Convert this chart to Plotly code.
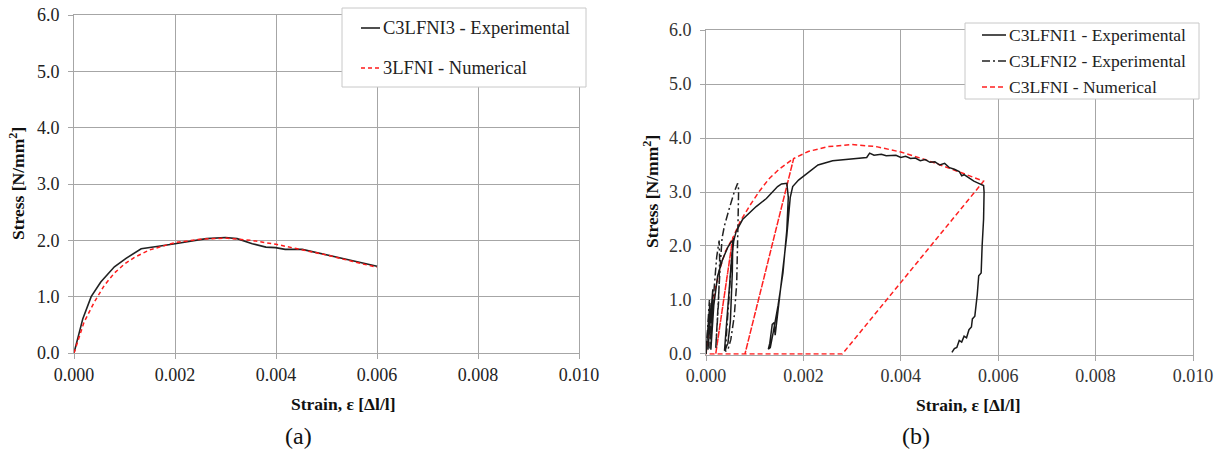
import plotly.graph_objects as go

# ---- data (a) ----
a_exp_x = [0, 0.000175, 0.00034, 0.00053, 0.0008, 0.00103, 0.00133, 0.00152, 0.00171, 0.0020,
           0.00232, 0.00262, 0.0030, 0.00323, 0.00353, 0.0038, 0.00399, 0.00418, 0.00452,
           0.00482, 0.00513, 0.00543, 0.00566, 0.0060]
a_exp_y = [0, 0.61, 1.0, 1.26, 1.53, 1.68, 1.85, 1.87, 1.90, 1.94,
           1.99, 2.03, 2.05, 2.03, 1.94, 1.88, 1.87, 1.84, 1.84,
           1.78, 1.72, 1.66, 1.62, 1.54]
a_num_x = [0, 0.0002, 0.0004, 0.0006, 0.0008, 0.001, 0.0012, 0.0015, 0.002, 0.0025,
           0.003, 0.0035, 0.004, 0.0045, 0.005, 0.0055, 0.006]
a_num_y = [0, 0.55, 0.9, 1.2, 1.42, 1.58, 1.7, 1.83, 1.96, 2.02,
           2.04, 2.0, 1.93, 1.84, 1.74, 1.63, 1.52]

# ---- data (b) ----
b_exp1_x = [0, 0.00003, 0.00008, 0.00006, 0.00004, 0.00009, 0.00014, 0.00012, 0.0001, 0.00016,
            0.00024, 0.00034, 0.00045, 0.00052, 0.00055, 0.00054, 0.0005, 0.00045, 0.00038,
            0.0004, 0.00046, 0.00052, 0.00057, 0.00062, 0.00075, 0.00094, 0.00103, 0.00124,
            0.00147, 0.00155, 0.00166, 0.00169, 0.00166, 0.00158, 0.00148, 0.00138, 0.00132,
            0.00128, 0.00131, 0.00136, 0.0014, 0.00142, 0.00148, 0.00156, 0.00166, 0.00173,
            0.00178, 0.0019, 0.00205, 0.0023, 0.0026, 0.003, 0.0033, 0.00336, 0.00345,
            0.0036, 0.0037, 0.0039, 0.004, 0.0041, 0.0042, 0.0043, 0.0044, 0.0045, 0.0046,
            0.0047, 0.0048, 0.0049, 0.005, 0.0051, 0.0052, 0.00525, 0.0053, 0.0054, 0.0055,
            0.0056, 0.0057, 0.00571, 0.0057, 0.00567, 0.00565, 0.0056, 0.00557, 0.00552,
            0.00547, 0.00545, 0.0054, 0.00535, 0.0053, 0.00525, 0.0052, 0.00515, 0.0051, 0.00505]
b_exp1_y = [0, 0.4, 0.95, 0.3, 0.08, 0.6, 1.2, 0.5, 0.08, 0.9,
            1.45, 1.75, 1.98, 2.08, 2.1, 1.5, 0.6, 0.2, 0.06,
            0.3, 1.0, 1.7, 2.1, 2.27, 2.49, 2.65, 2.73, 2.88,
            3.1, 3.15, 3.16, 2.9, 2.3, 1.5, 0.9, 0.4, 0.12,
            0.09, 0.2, 0.55, 0.58, 0.35, 0.8, 1.4, 2.2, 2.9,
            3.1, 3.22, 3.32, 3.5, 3.58, 3.62, 3.64, 3.72, 3.68,
            3.7, 3.67, 3.68, 3.64, 3.66, 3.62, 3.63, 3.58, 3.6, 3.55,
            3.56, 3.5, 3.53, 3.45, 3.42, 3.38, 3.3, 3.32, 3.26, 3.2,
            3.16, 3.12, 3.0, 2.5, 2.0, 1.5, 1.45, 1.1, 0.7,
            0.65, 0.5, 0.45, 0.3, 0.33, 0.22, 0.25, 0.12, 0.1, 0.03]

b_exp2_x = [0, 0.00003, 0.00007, 0.00009, 0.00008, 0.00012, 0.00017, 0.00022, 0.00027, 0.00028,
            0.00026, 0.00023, 0.0002, 0.00024, 0.00029, 0.00033, 0.00038, 0.00048, 0.00058,
            0.00065, 0.00067, 0.00066, 0.00065, 0.00063, 0.00058, 0.00051, 0.00045, 0.0004,
            0.00043, 0.00048, 0.00053, 0.00057]
b_exp2_y = [0, 0.45, 1.0, 0.55, 0.1, 0.7, 1.35, 1.8, 2.1, 1.75,
            1.0, 0.4, 0.1, 0.6, 1.6, 2.15, 2.38, 2.7, 3.0,
            3.16, 3.05, 2.55, 1.95, 1.3, 0.7, 0.27, 0.08, 0.05,
            0.5, 1.2, 1.8, 2.15]

b_num_x = [0, 0.0001, 0.0002, 0.0003, 0.0004, 0.00055, 0.0002, 0.00055, 0.0007, 0.0009,
           0.0011, 0.0013, 0.0015, 0.0018, 0.0008, 0.0018, 0.0021, 0.0025, 0.003, 0.0035,
           0.004, 0.0045, 0.005, 0.0054, 0.0057, 0.0028, 0]
b_num_y = [0, 0.7, 1.25, 1.62, 1.9, 2.15, 0, 2.15, 2.45, 2.75,
           3.02, 3.25, 3.42, 3.62, 0, 3.62, 3.75, 3.84, 3.88, 3.84,
           3.74, 3.6, 3.44, 3.3, 3.2, 0, 0]

W, H = 1225, 452
FONT = "Times New Roman"
GRID = "#a6a6a6"


def px(x):
    return x / W


def py(y):
    return 1 - y / H


fig = go.Figure()

fig.add_trace(go.Scatter(x=a_exp_x, y=a_exp_y, mode="lines", line=dict(color="#222222", width=1.6),
                         xaxis="x", yaxis="y", showlegend=False))
fig.add_trace(go.Scatter(x=a_num_x, y=a_num_y, mode="lines",
                         line=dict(color="#ff1a1a", width=1.5, dash="4px,3px"),
                         xaxis="x", yaxis="y", showlegend=False))

fig.add_trace(go.Scatter(x=b_num_x, y=b_num_y, mode="lines",
                         line=dict(color="#ff2020", width=1.5, dash="5px,3px"),
                         xaxis="x2", yaxis="y2", showlegend=False))
fig.add_trace(go.Scatter(x=b_exp2_x, y=b_exp2_y, mode="lines",
                         line=dict(color="#222222", width=1.5, dash="8px,3px,2px,3px"),
                         xaxis="x2", yaxis="y2", showlegend=False))
fig.add_trace(go.Scatter(x=b_exp1_x, y=b_exp1_y, mode="lines", line=dict(color="#1a1a1a", width=1.5),
                         xaxis="x2", yaxis="y2", showlegend=False))

axis_common = dict(showgrid=True, gridcolor=GRID, gridwidth=1, showline=True, linecolor=GRID,
                   linewidth=1, mirror=True, ticks="outside", ticklen=5, tickcolor=GRID,
                   zeroline=False, fixedrange=True, automargin=False, layer="below traces",
                   ticklabeloverflow="allow")

fig.update_layout(
    width=W, height=H,
    margin=dict(l=0, r=0, t=0, b=0),
    paper_bgcolor="white", plot_bgcolor="white",
    font=dict(family=FONT, color="#222222"),
    xaxis=dict(domain=[px(74), px(579)], range=[0, 0.010], dtick=0.002, tickformat=".3f",
               anchor="y", tickfont=dict(size=18, family=FONT), **axis_common),
    yaxis=dict(domain=[py(353), py(15)], range=[0, 6], dtick=1, tickformat=".1f",
               anchor="x", tickfont=dict(size=18, family=FONT), ticklabelstandoff=5,
               **axis_common),
    xaxis2=dict(domain=[px(706), px(1193)], range=[0, 0.010], dtick=0.002, tickformat=".3f",
                anchor="y2", tickfont=dict(size=18, color="#333333", family=FONT), **axis_common),
    yaxis2=dict(domain=[py(354.8), py(30)], range=[-0.015, 6], tick0=0, dtick=1, tickformat=".1f",
                anchor="x2", tickfont=dict(size=18, color="#333333", family=FONT),
                ticklabelstandoff=5, **axis_common),
)

# axis titles and panel labels
notes = [
    (343, 404, "<b>Strain, ε [Δl/l]</b>", 17.5, 0),
    (298, 436, "(a)", 24, 0),
    (17, 184, "<b>Stress [N/mm<sup>2</sup>]</b>", 17.5, -90),
    (968, 405, "<b>Strain, ε [Δl/l]</b>", 17.5, 0),
    (916, 436, "(b)", 24, 0),
    (651, 192, "<b>Stress [N/mm<sup>2</sup>]</b>", 17.5, -90),
]
for x, y, t, s, ang in notes:
    fig.add_annotation(x=px(x), y=py(y), xref="paper", yref="paper", text=t, showarrow=False,
                       textangle=ang, font=dict(size=s, family=FONT, color="#111111"),
                       xanchor="center", yanchor="middle")


# legends drawn by hand
def legend(box, rows, x0, x1, size):
    fig.add_shape(type="rect", xref="paper", yref="paper", x0=px(box[0]), x1=px(box[1]),
                  y0=py(box[3]), y1=py(box[2]), line=dict(color="#c8c8c8", width=1),
                  fillcolor="white", layer="above")
    for y, label, color, dash in rows:
        fig.add_shape(type="line", xref="paper", yref="paper", x0=px(x0), x1=px(x1),
                      y0=py(y), y1=py(y), line=dict(color=color, width=1.6, dash=dash),
                      layer="above")
        fig.add_annotation(x=px(x1 + 1), y=py(y), xref="paper", yref="paper", text=label,
                           showarrow=False, xanchor="left", yanchor="middle",
                           font=dict(size=size, family=FONT, color="#222222"))


legend((342, 586, 8, 87), [
    (28, "C3LFNI3 - Experimental", "#222222", "solid"),
    (68, "3LFNI - Numerical", "#ff1a1a", "4px,3px"),
], 361, 380, 18.5)

legend((965, 1199, 23, 99), [
    (35, "C3LFNI1 - Experimental", "#222222", "solid"),
    (61, "C3LFNI2 - Experimental", "#222222", "8px,3px,2px,3px"),
    (87, "C3LFNI - Numerical", "#ff2020", "5px,3px"),
], 982, 1006, 17.5)

# the page body has a default 8px margin; drop it so the figure fills the window
fig.write_html("out.html", config={"displayModeBar": False},
               post_script="document.body.style.margin='0px';")
